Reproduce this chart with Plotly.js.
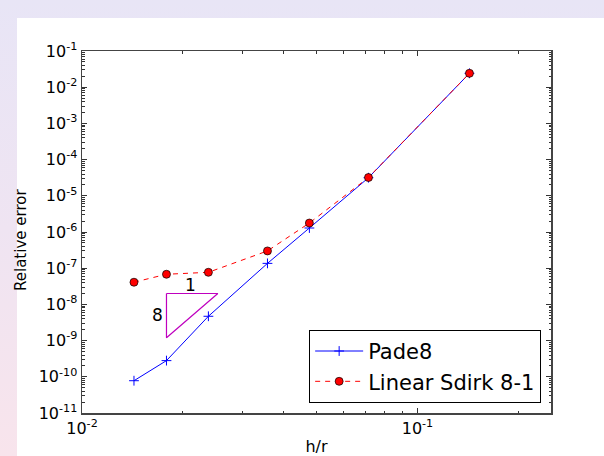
<!DOCTYPE html>
<html>
<head>
<meta charset="utf-8">
<script src="https://cdn.plot.ly/plotly-3.0.1.min.js"></script>
<style>
  html, body { margin: 0; padding: 0; }
  body {
    width: 604px; height: 456px; overflow: hidden;
    background: linear-gradient(180deg, #e8e5f6 0%, #efe4f2 50%, #f8e4ec 100%);
    position: relative;
  }
  #bg { position: absolute; left: 17px; top: 18px; width: 587px; height: 438px; background: #fff; }
  #plot { position: absolute; left: 0; top: 0; width: 604px; height: 456px; }
</style>
</head>
<body>
<div id="bg"></div>
<div id="plot"></div>
<script>
// h/r values
const hr = [1/70, 1/56, 1/42, 1/28, 1/21, 1/14, 1/7];
// Relative error, Pade8
const pade8 = [7.8e-11, 2.8e-10, 4.7e-9, 1.36e-7, 1.29e-6, 3.16e-5, 2.42e-2];
// Relative error, Linear Sdirk 8-1
const sdirk = [4.1e-8, 6.8e-8, 7.7e-8, 3.0e-7, 1.77e-6, 3.2e-5, 2.42e-2];
// Slope triangle (order 8)
const triX = [1/56, 0.0254, 1/56, 1/56];
const triY = [2e-8, 2e-8, 2e-8 / Math.pow(0.0254 * 56, 8), 2e-8];
// Tick decades
const xDecades = [-2, -1];
const yDecades = [-11, -10, -9, -8, -7, -6, -5, -4, -3, -2, -1];

const font = 'DejaVu Sans, Liberation Sans, sans-serif';

function majorVals(decs) { return decs.map(d => Math.pow(10, d)); }
function majorText(decs) { return decs.map(d => '10<sup>' + String(d) + '</sup>'); }
function minorVals(decs) {
  const out = [];
  for (let i = 0; i < decs.length; i++) {
    for (let m = 2; m <= 9; m++) out.push(m * Math.pow(10, decs[i]));
  }
  return out;
}

const traces = [
  {
    x: hr, y: pade8, name: 'Pade8', type: 'scatter', mode: 'lines+markers',
    line: {color: '#0000ff', width: 1},
    marker: {symbol: 'cross-thin-open', size: 7, color: '#0000ff', line: {color: '#0000ff', width: 1}}
  },
  {
    x: hr, y: sdirk, name: 'Linear Sdirk 8-1', type: 'scatter', mode: 'lines+markers',
    line: {color: '#ff0000', width: 1, dash: '5px,5px'},
    marker: {symbol: 'circle', size: 8, color: '#ff0000', line: {color: '#000000', width: 0.7}}
  },
  {
    x: triX, y: triY, type: 'scatter', mode: 'lines', showlegend: false, hoverinfo: 'skip',
    line: {color: '#bf00bf', width: 1.2}
  }
];

const axisCommon = {
  type: 'log', showgrid: false, zeroline: false,
  showline: true, linecolor: '#444', linewidth: 1.5, mirror: 'allticks',
  ticks: 'inside', ticklen: 5, tickwidth: 1, tickcolor: '#333',
  tickmode: 'array',
  tickfont: {family: font, size: 16, color: '#000'}
};

const layout = {
  width: 604, height: 456,
  margin: {l: 82, r: 53, t: 51, b: 43},
  paper_bgcolor: 'rgba(0,0,0,0)', plot_bgcolor: '#ffffff',
  showlegend: true,
  xaxis: Object.assign({}, axisCommon, {
    range: [-2, Math.log10(0.25)],
    tickvals: majorVals(xDecades), ticktext: majorText(xDecades),
    minor: {tickmode: 'array', tickvals: minorVals(xDecades), ticks: 'inside',
            ticklen: 2.5, tickwidth: 1, tickcolor: '#333', showgrid: false},
    title: {text: 'h/r', font: {family: font, size: 16, color: '#000'}, standoff: 6}
  }),
  yaxis: Object.assign({}, axisCommon, {
    range: [-11, -1],
    tickvals: majorVals(yDecades), ticktext: majorText(yDecades),
    minor: {tickmode: 'array', tickvals: minorVals(yDecades), ticks: 'inside',
            ticklen: 2.5, tickwidth: 1, tickcolor: '#333', showgrid: false}
  }),
  legend: {
    x: 0.979, y: 0.028, xanchor: 'right', yanchor: 'bottom',
    bgcolor: '#ffffff', bordercolor: '#000000', borderwidth: 1,
    font: {family: font, size: 21, color: '#000'},
    tracegroupgap: 0, itemwidth: 48
  },
  annotations: [
    {xref: 'paper', yref: 'paper', x: 0, y: 0.5, xanchor: 'center', yanchor: 'middle',
     xshift: -61, yshift: -8, textangle: -90, text: 'Relative error', showarrow: false,
     font: {family: font, size: 15, color: '#000'}},
    {x: Math.log10(0.021), y: Math.log10(3.43e-8), text: '1', showarrow: false,
     font: {family: font, size: 17, color: '#000'}},
    {x: Math.log10(0.01682), y: Math.log10(5.09e-9), text: '8', showarrow: false,
     font: {family: font, size: 17, color: '#000'}}
  ]
};

Plotly.newPlot('plot', traces, layout, {displayModeBar: false, staticPlot: true});
</script>
</body>
</html>
